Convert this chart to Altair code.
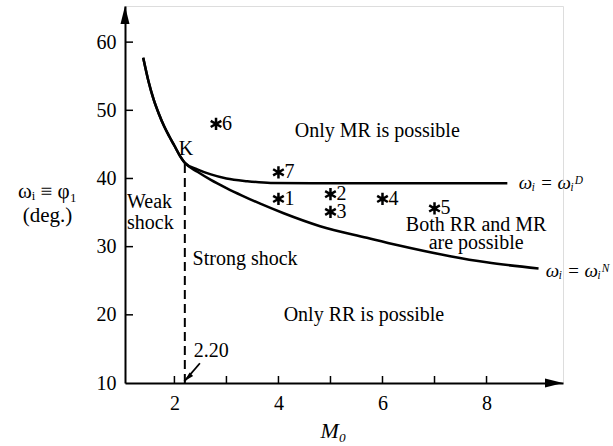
import altair as alt
import pandas as pd

FONT = "Liberation Serif"

# ---- data ----
# common branch (before point K)
common_m = [1.40, 1.50, 1.60, 1.70, 1.80, 1.90, 2.00, 2.10, 2.20]
common_w = [57.7, 54.3, 51.6, 49.5, 47.7, 46.2, 44.8, 43.4, 42.3]
# detachment branch  omega_i = omega_i^D
d_m = [2.20, 2.45, 2.70, 3.00, 3.40, 3.85, 5.00, 6.00, 7.00, 8.40]
d_w = [42.3, 41.3, 40.6, 40.0, 39.6, 39.35, 39.3, 39.3, 39.3, 39.3]
# von Neumann branch  omega_i = omega_i^N
n_m = [2.20, 2.45, 2.70, 3.00, 3.30, 3.65, 4.10, 4.80, 5.70, 6.30, 7.30, 8.00, 9.00]
n_w = [42.3, 40.95, 39.8, 38.6, 37.5, 36.3, 34.9, 33.0, 31.3, 30.2, 28.6, 27.7, 26.8]
# experiments
star_m = [4.0, 5.0, 5.0, 6.0, 7.0, 2.8, 4.0]
star_w = [37.0, 37.7, 35.1, 37.0, 35.6, 48.0, 40.9]
star_lab = ["1", "2", "3", "4", "5", "6", "7"]
# K point / dashed line
k_m = 2.20
k_w = 42.3

x_ticks = [2, 3, 4, 5, 6, 7, 8]
x_labels = [2, 4, 6, 8]
y_ticks = [20, 30, 40, 50, 60]
y_labels = [10, 20, 30, 40, 50, 60]

x_min, x_max = 1.05, 9.47
y_min, y_max = 10, 65.3

# annotations
center_text = ["Only MR is possible", "K", "Both RR and MR", "are possible"]
center_m = [5.9, 2.22, 7.8, 7.8]
center_w = [46.9, 44.3, 33.2, 30.5]

left_text = ["Weak", "shock", "Strong shock", "Only RR is possible", "2.20"]
left_m = [1.09, 1.09, 2.35, 4.1, 2.37]
left_w = [36.6, 33.5, 28.2, 20.0, 14.7]

omega_text = ["ωᵢ = ωᵢᴰ", "ωᵢ = ωᵢᴺ"]
omega_m = [8.62, 9.14]
omega_w = [39.3, 26.5]

arrow_m = [2.49, 2.19]
arrow_w = [12.9, 10.25]

# ---- tables ----
curves = pd.concat([
    pd.DataFrame({"M": common_m + d_m[1:], "w": common_w + d_w[1:], "c": "D"}),
    pd.DataFrame({"M": common_m + n_m[1:], "w": common_w + n_w[1:], "c": "N"}),
])
stars = pd.DataFrame({"M": star_m, "w": star_w, "lab": star_lab})
ctext = pd.DataFrame({"M": center_m, "w": center_w, "t": center_text})
ltext = pd.DataFrame({"M": left_m, "w": left_w, "t": left_text})
otext = pd.DataFrame({"M": omega_m, "w": omega_w, "t": omega_text})
xt = pd.DataFrame({"M": x_ticks, "w": [y_min] * len(x_ticks)})
yt = pd.DataFrame({"M": [x_min] * len(y_ticks), "w": y_ticks})
kdf = pd.DataFrame({"M": [k_m], "w": [y_min], "w2": [k_w]})
arr = pd.DataFrame({"M": arrow_m, "w": arrow_w})
arr_tip = pd.DataFrame({"M": [arrow_m[1]], "w": [arrow_w[1]]})
yarrow = pd.DataFrame({"M": [x_min], "w": [y_max]})
xarrow = pd.DataFrame({"M": [x_max], "w": [y_min]})

xs = alt.Scale(domain=[x_min, x_max], nice=False, zero=False)
ys = alt.Scale(domain=[y_min, y_max], nice=False, zero=False)

X = alt.X("M:Q", scale=xs, axis=alt.Axis(
    values=x_labels, ticks=False, grid=False, domainColor="black", domainWidth=2,
    labelFont=FONT, labelFontSize=20, labelColor="black", labelPadding=10,
    title="M₀", titleFont=FONT, titleFontSize=22, titleFontStyle="italic",
    titleFontWeight="normal", titleColor="black", titleX=208, titleY=47,
    titleBaseline="middle", titleAlign="center", labelFlush=False))
Y = alt.Y("w:Q", scale=ys, axis=alt.Axis(
    values=y_labels, ticks=False, grid=False, domainColor="black", domainWidth=2,
    labelFont=FONT, labelFontSize=20, labelColor="black", labelPadding=9,
    title=["ωᵢ ≡ φ₁", "(deg.)"], titleFont=FONT, titleFontSize=21,
    titleFontWeight="normal", titleColor="black", titleAngle=0,
    titleX=-78, titleY=174, titleAlign="center", titleBaseline="top",
    titleLineHeight=24, labelFlush=False))
Xp = alt.X("M:Q", scale=xs)
Yp = alt.Y("w:Q", scale=ys)

base_curves = alt.Chart(curves).mark_line(
    color="black", strokeWidth=2.5, interpolate="monotone"
).encode(x=X, y=Y, detail="c:N")

dashed = alt.Chart(kdf).mark_rule(color="black", strokeWidth=2, strokeDash=[9, 5]).encode(
    x=Xp, y=Yp, y2="w2:Q")

star_shape = "M0,-1L0,1M-0.87,-0.5L0.87,0.5M-0.87,0.5L0.87,-0.5"
star_pts = alt.Chart(stars).mark_point(
    shape=star_shape, size=150, filled=False, color="black", strokeWidth=2.5, opacity=1
).encode(x=Xp, y=Yp)
star_lbl = alt.Chart(stars).mark_text(
    font=FONT, fontSize=20, align="left", baseline="middle", dx=6, color="black"
).encode(x=Xp, y=Yp, text="lab:N")

ct = alt.Chart(ctext).mark_text(font=FONT, fontSize=20, align="center",
                                baseline="middle", color="black").encode(x=Xp, y=Yp, text="t:N")
lt = alt.Chart(ltext).mark_text(font=FONT, fontSize=20, align="left",
                                baseline="middle", color="black").encode(x=Xp, y=Yp, text="t:N")
ot = alt.Chart(otext).mark_text(font=FONT, fontSize=19, align="left", fontStyle="italic",
                                baseline="middle", color="black").encode(x=Xp, y=Yp, text="t:N")

xtick = alt.Chart(xt).mark_point(shape="M0,0L0,-2", size=49, filled=False,
                                 color="black", strokeWidth=1.5, opacity=1).encode(x=Xp, y=Yp)
ytick = alt.Chart(yt).mark_point(shape="M0,0L2,0", size=64, filled=False,
                                 color="black", strokeWidth=1.5, opacity=1).encode(x=Xp, y=Yp)

arrow_line = alt.Chart(arr).mark_line(color="black", strokeWidth=1.8).encode(x=Xp, y=Yp)
arrow_head = alt.Chart(arr_tip).mark_point(
    shape="M0,0L1.77,-1.06L1.06,-1.77Z", size=100, filled=True, color="black", opacity=1
).encode(x=Xp, y=Yp)

y_arrow = alt.Chart(yarrow).mark_point(
    shape="M0,0L0.5,2L-0.5,2Z", size=324, filled=True, color="black", opacity=1
).encode(x=Xp, y=Yp)
x_arrow = alt.Chart(xarrow).mark_point(
    shape="M0,0L-2,0.5L-2,-0.5Z", size=324, filled=True, color="black", opacity=1
).encode(x=Xp, y=Yp)

chart = alt.layer(
    base_curves, dashed, star_pts, star_lbl, ct, lt, ot, xtick, ytick,
    arrow_line, arrow_head, y_arrow, x_arrow
).properties(
    width=438, height=377, autosize="none",
    padding={"left": 125, "top": 6, "right": 50, "bottom": 63}
).configure_view(stroke=None).configure(background="white")

chart.save("out.html", embed_options={"renderer": "svg", "actions": False})
